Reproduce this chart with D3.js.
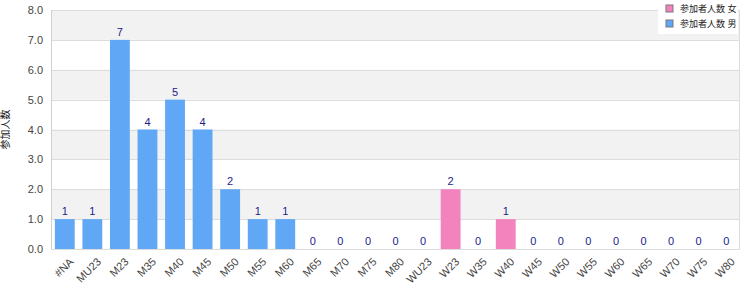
<!DOCTYPE html>
<html lang="ja">
<head>
<meta charset="UTF-8">
<title>Chart</title>
<script src="https://d3js.org/d3.v7.min.js"></script>
<style>
    body { margin: 0; background: #fff; }
    text { font-family: "Liberation Sans", Arial, "Noto Sans CJK JP", sans-serif; }
</style>
</head>
<body>
<div id="chart"></div>
<script>
    // categories and counts (men first, then women)
    const categories = ["#NA", "MU23", "M23", "M35", "M40", "M45", "M50", "M55", "M60", "M65", "M70", "M75", "M80",
        "WU23", "W23", "W35", "W40", "W45", "W50", "W55", "W60", "W65", "W70", "W75", "W80"];
    const menCounts = [1, 1, 7, 4, 5, 4, 2, 1, 1, 0, 0, 0, 0, null, null, null, null, null, null, null, null, null, null, null, null];
    const womenCounts = [null, null, null, null, null, null, null, null, null, null, null, null, null, 0, 2, 0, 1, 0, 0, 0, 0, 0, 0, 0, 0];
    const yTicks = [0, 1, 2, 3, 4, 5, 6, 7, 8];
    const legendLabels = ["参加者人数 女", "参加者人数 男"];
    const yTitle = "参加人数";

    const width = 750, height = 300;
    const margin = {top: 10, right: 10, bottom: 51, left: 51};
    const pinkColor = "#f383bd", blueColor = "#60a8f5";

    const svg = d3.select("#chart").append("svg")
        .attr("width", width)
        .attr("height", height);

    const x = d3.scaleBand()
        .domain(categories)
        .range([margin.left, width - margin.right])
        .paddingInner(0.28)
        .paddingOuter(0.14);

    const y = d3.scaleLinear()
        .domain([0, 8])
        .range([height - margin.bottom, margin.top]);

    // alternating bands
    svg.append("g").selectAll("rect")
        .data(yTicks.slice(0, -1).filter(d => d % 2 === 1))
        .enter().append("rect")
        .attr("x", margin.left)
        .attr("width", width - margin.right - margin.left)
        .attr("y", d => y(d + 1))
        .attr("height", d => y(d) - y(d + 1))
        .attr("fill", "#f2f2f2");

    // grid lines
    svg.append("g").selectAll("line")
        .data(yTicks)
        .enter().append("line")
        .attr("x1", margin.left)
        .attr("x2", width - margin.right)
        .attr("y1", d => Math.round(y(d)) + 0.5)
        .attr("y2", d => Math.round(y(d)) + 0.5)
        .attr("stroke", "#dcdcdc");

    // border left / right
    svg.append("line")
        .attr("x1", margin.left + 0.5).attr("x2", margin.left + 0.5)
        .attr("y1", margin.top).attr("y2", height - margin.bottom)
        .attr("stroke", "#d0d0d0");
    svg.append("line")
        .attr("x1", width - margin.right - 0.5).attr("x2", width - margin.right - 0.5)
        .attr("y1", margin.top).attr("y2", height - margin.bottom)
        .attr("stroke", "#dcdcdc");

    const rows = categories.map((c, i) => ({
        cat: c,
        value: menCounts[i] !== null ? menCounts[i] : womenCounts[i],
        color: menCounts[i] !== null ? blueColor : pinkColor
    }));

    // bars
    svg.append("g").selectAll("rect")
        .data(rows)
        .enter().append("rect")
        .attr("x", d => x(d.cat))
        .attr("width", x.bandwidth())
        .attr("y", d => y(d.value))
        .attr("height", d => y(0) - y(d.value))
        .attr("fill", d => d.color);

    // value labels
    svg.append("g").selectAll("text")
        .data(rows)
        .enter().append("text")
        .attr("x", d => x(d.cat) + x.bandwidth() / 2)
        .attr("y", d => y(d.value) - 4)
        .attr("text-anchor", "middle")
        .attr("font-size", 11)
        .attr("fill", "#1c1c8c")
        .text(d => d.value);

    // y axis labels
    svg.append("g").selectAll("text")
        .data(yTicks)
        .enter().append("text")
        .attr("x", margin.left - 8)
        .attr("y", d => y(d) + 4)
        .attr("text-anchor", "end")
        .attr("font-size", 11)
        .attr("fill", "#444")
        .text(d => d.toFixed(1));

    // x axis labels
    svg.append("g").selectAll("text")
        .data(categories)
        .enter().append("text")
        .attr("transform", d => `translate(${x(d) + x.bandwidth() / 2 + 4},${height - margin.bottom + 8}) rotate(-45)`)
        .attr("text-anchor", "end")
        .attr("dy", "0.7em")
        .attr("font-size", 11)
        .attr("fill", "#444")
        .text(d => d);

    // y title
    svg.append("text")
        .attr("transform", `translate(9,${(margin.top + height - margin.bottom) / 2}) rotate(-90)`)
        .attr("text-anchor", "middle")
        .attr("font-size", 10)
        .attr("fill", "#222")
        .text(yTitle);

    // legend
    const legend = svg.append("g").attr("transform", "translate(658,0)");
    legend.append("rect")
        .attr("width", 80).attr("height", 34)
        .attr("fill", "#fff");
    [pinkColor, blueColor].forEach((c, i) => {
        legend.append("rect")
            .attr("x", 8).attr("y", 5 + i * 15)
            .attr("width", 7).attr("height", 7)
            .attr("fill", c)
            .attr("stroke", "#777");
        legend.append("text")
            .attr("x", 22).attr("y", 12 + i * 15)
            .attr("font-size", 9)
            .attr("fill", "#222")
            .text(legendLabels[i]);
    });
</script>
</body>
</html>
